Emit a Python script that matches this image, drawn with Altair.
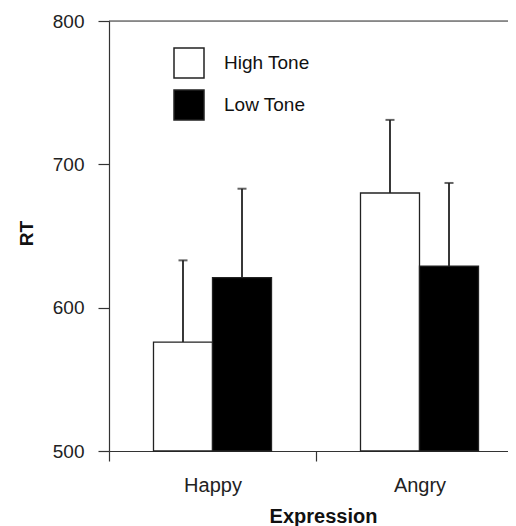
import altair as alt
import pandas as pd

expressions = ["Happy", "Happy", "Angry", "Angry"]
tones = ["High Tone", "Low Tone", "High Tone", "Low Tone"]
rt_means = [576, 621, 680, 629]
rt_upper = [633, 683, 731, 687]

df = pd.DataFrame({
    "Expression": expressions,
    "Tone": tones,
    "RT": rt_means,
    "Upper": rt_upper,
})

FONT = "Liberation Sans"
exp_order = ["Happy", "Angry"]
tone_order = ["High Tone", "Low Tone"]

x_enc = alt.X(
    "Expression:N",
    sort=exp_order,
    scale=alt.Scale(range=[0, 414], paddingInner=0, paddingOuter=0),
    axis=alt.Axis(
        title="Expression", labelAngle=0, tickBand="extent", tickSize=10,
        labelFontSize=20, labelPadding=30, labelBaseline="alphabetic",
        titleFontSize=20, titleFontWeight="bold", titleBaseline="alphabetic",
        titleX=214, titleY=71, titleAlign="center",
        domainColor="#333", tickColor="#333", labelColor="#222",
        titleColor="#111", labelFont=FONT, titleFont=FONT, domainWidth=1.2, tickWidth=1.2,
    ),
)
xo_enc = alt.XOffset("Tone:N", sort=tone_order,
                     scale=alt.Scale(paddingInner=0, paddingOuter=0.754))
y_scale = alt.Scale(domain=[500, 800], nice=False, zero=False)

bars = alt.Chart(df).mark_bar(stroke="#222", strokeWidth=1.3).encode(
    x=x_enc,
    xOffset=xo_enc,
    y=alt.Y(
        "RT:Q", scale=y_scale,
        axis=alt.Axis(
            title="RT", values=[500, 600, 700, 800], grid=False, tickSize=11,
            labelFontSize=19, labelPadding=14, titleFontSize=19, titleFontWeight="bold",
            titleBaseline="alphabetic", titleX=-77, titleY=212, titleAlign="center",
            titleAngle=270,
            domainColor="#333", tickColor="#333", labelColor="#222",
            titleColor="#111", labelFont=FONT, titleFont=FONT, domainWidth=1.2, tickWidth=1.2,
        ),
    ),
    y2=alt.datum(500),
    fill=alt.Fill(
        "Tone:N", sort=tone_order,
        scale=alt.Scale(domain=tone_order, range=["white", "black"]),
        legend=alt.Legend(
            title=None, orient="none", legendX=64, legendY=26,
            symbolType="square", symbolSize=900, symbolStrokeColor="#222",
            symbolStrokeWidth=1.5, labelFontSize=19, labelFont=FONT, labelColor="#111",
            labelOffset=19, rowPadding=6,
        ),
    ),
)

err = alt.Chart(df).mark_rule(color="#222", strokeWidth=1.8).encode(
    x=alt.X("Expression:N", sort=exp_order),
    xOffset=alt.XOffset("Tone:N", sort=tone_order),
    y=alt.Y("RT:Q", scale=y_scale),
    y2="Upper:Q",
)

caps = alt.Chart(df).mark_tick(color="#222", thickness=2, size=9).encode(
    x=alt.X("Expression:N", sort=exp_order),
    xOffset=alt.XOffset("Tone:N", sort=tone_order),
    y=alt.Y("Upper:Q", scale=y_scale),
)

top_line = alt.Chart(pd.DataFrame({"top": [800]})).mark_rule(
    color="#333", strokeWidth=1.2
).encode(
    y=alt.Y("top:Q", scale=y_scale),
    x=alt.value(0),
    x2=alt.value(414),
)

chart = alt.layer(bars, err, caps, top_line).properties(
    width=399,
    height=430,
    autosize=alt.AutoSizeParams(type="none"),
    padding={"left": 101, "top": 13, "right": 0, "bottom": 75},
).configure_view(stroke=None).configure(background="white")

chart.save("out.html", embed_options={"renderer": "svg", "actions": False})
